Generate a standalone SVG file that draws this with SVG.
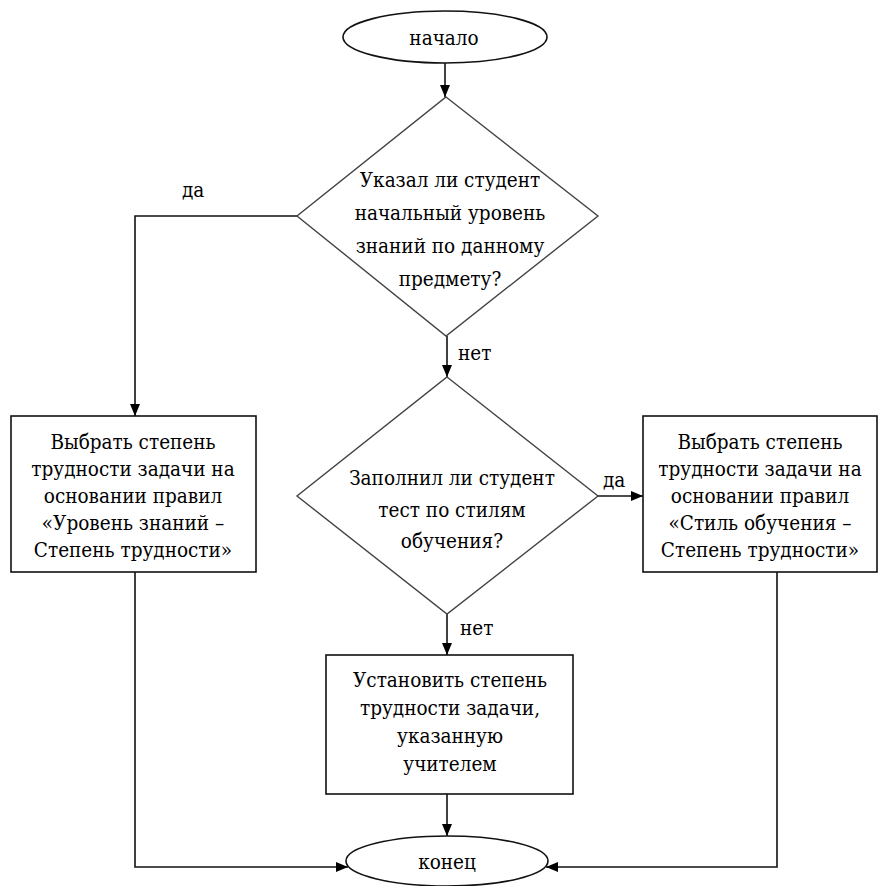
<svg xmlns="http://www.w3.org/2000/svg" width="880" height="886" viewBox="0 0 880 886">
<style>
text{font-family:'DejaVu Serif Condensed','DejaVu Serif',serif;font-stretch:condensed;font-size:20.5px;fill:#000}
.c{text-anchor:middle}
.shape{fill:#fff;stroke:#111;stroke-width:1.6}
.dia{fill:#fff;stroke:#444;stroke-width:1.4}
.line{fill:none;stroke:#111;stroke-width:1.6}
</style>
<defs>
<marker id="ah" viewBox="0 0 12 10" refX="12" refY="5" markerWidth="12" markerHeight="11" markerUnits="userSpaceOnUse" orient="auto">
<path d="M0,0 L12,5 L0,10 z" fill="#000"/>
</marker>
</defs>
<rect width="880" height="886" fill="#fff"/>
<g id="connectors">
<path class="line" d="M445,63 L445,97" marker-end="url(#ah)"/>
<path class="line" d="M297,216 L135,216 L135,416" marker-end="url(#ah)"/>
<path class="line" d="M447,336 L447,377" marker-end="url(#ah)"/>
<path class="line" d="M598,496 L643,496" marker-end="url(#ah)"/>
<path class="line" d="M447,614 L447,655" marker-end="url(#ah)"/>
<path class="line" d="M447,794 L447,836" marker-end="url(#ah)"/>
<path class="line" d="M135,572 L135,867 L348,867" marker-end="url(#ah)"/>
<path class="line" d="M777,572 L777,867 L546,867" marker-end="url(#ah)"/>
<text x="182" y="197">да</text>
<text x="458" y="360">нет</text>
<text x="603" y="487">да</text>
<text x="460" y="635">нет</text>
</g>
<g id="start">
<ellipse class="shape" cx="445" cy="37" rx="102" ry="26"/>
<text class="c" x="444" y="45">начало</text>
</g>
<g id="decision1">
<polygon class="dia" points="446,97 598,216 446,336 297,216"/>
<text class="c" x="450" y="187">Указал ли студент</text>
<text class="c" x="450" y="220">начальный уровень</text>
<text class="c" x="450" y="253">знаний по данному</text>
<text class="c" x="450" y="286">предмету?</text>
</g>
<g id="decision2">
<polygon class="dia" points="447,377 598,496 447,614 297,496"/>
<text class="c" x="452" y="485">Заполнил ли студент</text>
<text class="c" x="452" y="517">тест по стилям</text>
<text class="c" x="452" y="548">обучения?</text>
</g>
<g id="box-left">
<rect class="shape" x="11" y="416" width="245" height="156"/>
<text class="c" x="133" y="449">Выбрать степень</text>
<text class="c" x="133" y="476">трудности задачи на</text>
<text class="c" x="133" y="503">основании правил</text>
<text class="c" x="133" y="530">«Уровень знаний –</text>
<text class="c" x="133" y="557">Степень трудности»</text>
</g>
<g id="box-right">
<rect class="shape" x="643" y="416" width="234" height="156"/>
<text class="c" x="760" y="449">Выбрать степень</text>
<text class="c" x="760" y="476">трудности задачи на</text>
<text class="c" x="760" y="503">основании правил</text>
<text class="c" x="760" y="530">«Стиль обучения –</text>
<text class="c" x="760" y="557">Степень трудности»</text>
</g>
<g id="box-middle">
<rect class="shape" x="326" y="655" width="247" height="139"/>
<text class="c" x="450" y="687">Установить степень</text>
<text class="c" x="450" y="715">трудности задачи,</text>
<text class="c" x="450" y="743">указанную</text>
<text class="c" x="450" y="771">учителем</text>
</g>
<g id="end">
<ellipse class="shape" cx="447" cy="861" rx="101" ry="25"/>
<text class="c" x="447" y="869">конец</text>
</g>
</svg>
